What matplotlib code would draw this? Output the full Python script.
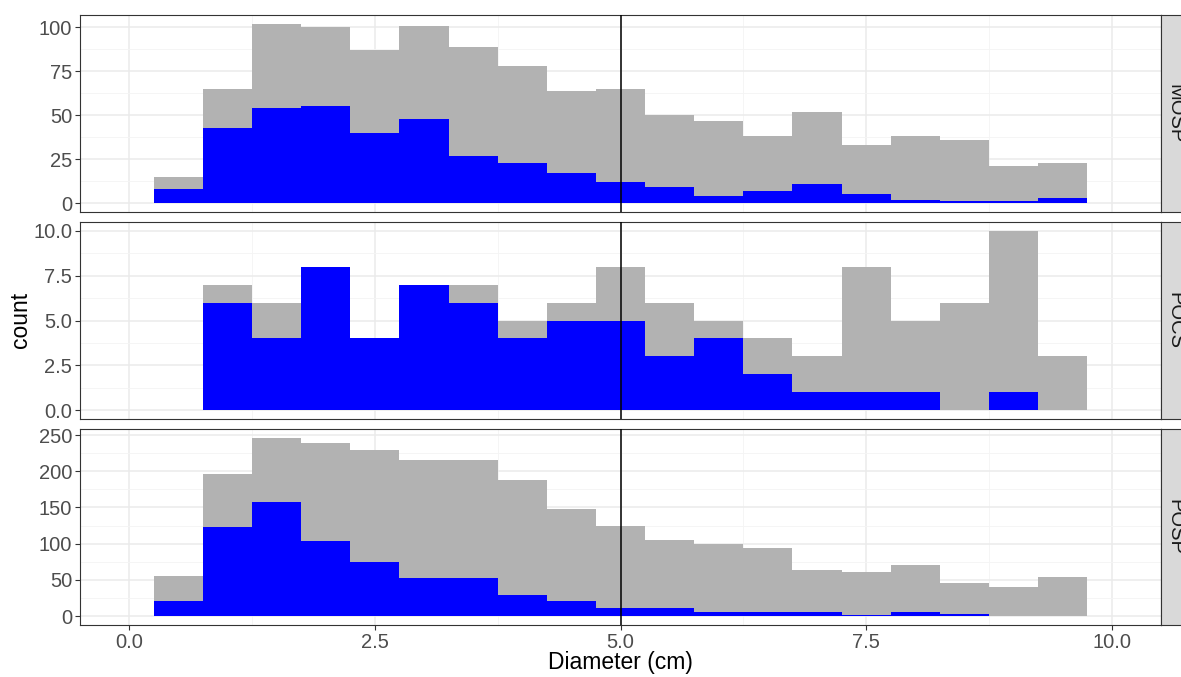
import matplotlib.pyplot as plt
from matplotlib.ticker import FixedLocator

plt.rcParams['font.family'] = ['Liberation Sans', 'DejaVu Sans']

# histogram bins (binwidth 0.5)
bin_centers = [0.5, 1.0, 1.5, 2.0, 2.5, 3.0, 3.5, 4.0, 4.5, 5.0,
               5.5, 6.0, 6.5, 7.0, 7.5, 8.0, 8.5, 9.0, 9.5]
bin_width = 0.5

species = ["MOSP", "POCS", "POSP"]

# all stems per bin (grey) and the subset (blue)
mosp_all = [15, 65, 102, 100, 87, 101, 89, 78, 64, 65,
            50, 47, 38, 52, 33, 38, 36, 21, 23]
mosp_sub = [8, 43, 54, 55, 40, 48, 27, 23, 17, 12,
            9, 4, 7, 11, 5, 2, 1, 1, 3]

pocs_all = [0, 7, 6, 8, 4, 7, 7, 5, 6, 8,
            6, 5, 4, 3, 8, 5, 6, 10, 3]
pocs_sub = [0, 6, 4, 8, 4, 7, 6, 4, 5, 5,
            3, 4, 2, 1, 1, 1, 0, 1, 0]

posp_all = [55, 196, 246, 239, 229, 216, 216, 188, 148, 124,
            105, 100, 94, 64, 61, 71, 46, 40, 54]
posp_sub = [21, 123, 157, 103, 74, 53, 52, 29, 21, 11,
            11, 6, 6, 5, 2, 5, 3, 0, 0]

all_counts = [mosp_all, pocs_all, posp_all]
sub_counts = [mosp_sub, pocs_sub, posp_sub]

y_breaks = [[0, 25, 50, 75, 100],
            [0, 2.5, 5, 7.5, 10],
            [0, 50, 100, 150, 200, 250]]
y_labels = [["0", "25", "50", "75", "100"],
            ["0.0", "2.5", "5.0", "7.5", "10.0"],
            ["0", "50", "100", "150", "200", "250"]]

x_breaks = [0, 2.5, 5, 7.5, 10]
x_labels = ["0.0", "2.5", "5.0", "7.5", "10.0"]
cutoff = 5.0

W, H = 1181, 677
fig = plt.figure(figsize=(W / 100, H / 100), dpi=100)

left_px, right_px = 80, 1161
panels_px = [(15, 212), (222, 419), (429, 625)]
strip_w = 28

grey_fill = "#B2B2B2"
blue_fill = "#0000FF"
grid_major = "#EBEBEB"
grid_minor = "#F4F4F4"
frame = "#333333"
tick_txt = "#4D4D4D"

for i, (top, bot) in enumerate(panels_px):
    ax = fig.add_axes([left_px / W, 1 - bot / H, (right_px - left_px) / W, (bot - top) / H])

    ax.bar(bin_centers, all_counts[i], width=bin_width, color=grey_fill,
           linewidth=0, zorder=2)
    ax.bar(bin_centers, sub_counts[i], width=bin_width, color=blue_fill,
           linewidth=0, zorder=3)
    ax.axvline(cutoff, color="black", linewidth=1.1, zorder=4)

    ymax = max(all_counts[i])
    ax.set_ylim(-0.05 * ymax, 1.05 * ymax)
    ax.set_xlim(-0.5, 10.5)

    # major and minor grid like theme_bw
    yb = y_breaks[i]
    step = yb[1] - yb[0]
    ax.yaxis.set_major_locator(FixedLocator(yb))
    ax.yaxis.set_minor_locator(FixedLocator([b + step / 2 for b in yb]))
    ax.set_yticklabels(y_labels[i])
    ax.xaxis.set_major_locator(FixedLocator(x_breaks))
    ax.xaxis.set_minor_locator(FixedLocator([b + 1.25 for b in x_breaks]))

    ax.grid(which="major", color=grid_major, linewidth=1.1, zorder=0)
    ax.grid(which="minor", color=grid_minor, linewidth=0.6, zorder=0)
    ax.set_axisbelow(True)

    ax.tick_params(which="minor", length=0)
    ax.tick_params(which="major", direction="out", length=3.5, width=0.8,
                   color=frame, labelsize=14.5, labelcolor=tick_txt, pad=2)
    if i < 2:
        ax.tick_params(axis="x", which="major", labelbottom=False, length=0)
    else:
        ax.set_xticklabels(x_labels)

    for sp in ax.spines.values():
        sp.set_color(frame)
        sp.set_linewidth(0.8)

    # facet strip on the right
    sax = fig.add_axes([right_px / W, 1 - bot / H, strip_w / W, (bot - top) / H])
    sax.set_facecolor("#D9D9D9")
    sax.set_xticks([])
    sax.set_yticks([])
    for sp in sax.spines.values():
        sp.set_color(frame)
        sp.set_linewidth(0.8)
    sax.text(0.5, 0.5, species[i], rotation=-90, ha="center", va="center",
             fontsize=14.5, color="#1A1A1A", transform=sax.transAxes)

fig.text((left_px + right_px) / 2 / W, 1 - 663 / H, "Diameter (cm)",
         ha="center", va="center", fontsize=16.5, color="black")
fig.text(20 / W, 1 - 320 / H, "count", rotation=90,
         ha="center", va="center", fontsize=16.5, color="black")

fig.savefig("out.png", dpi=100, facecolor="white")
